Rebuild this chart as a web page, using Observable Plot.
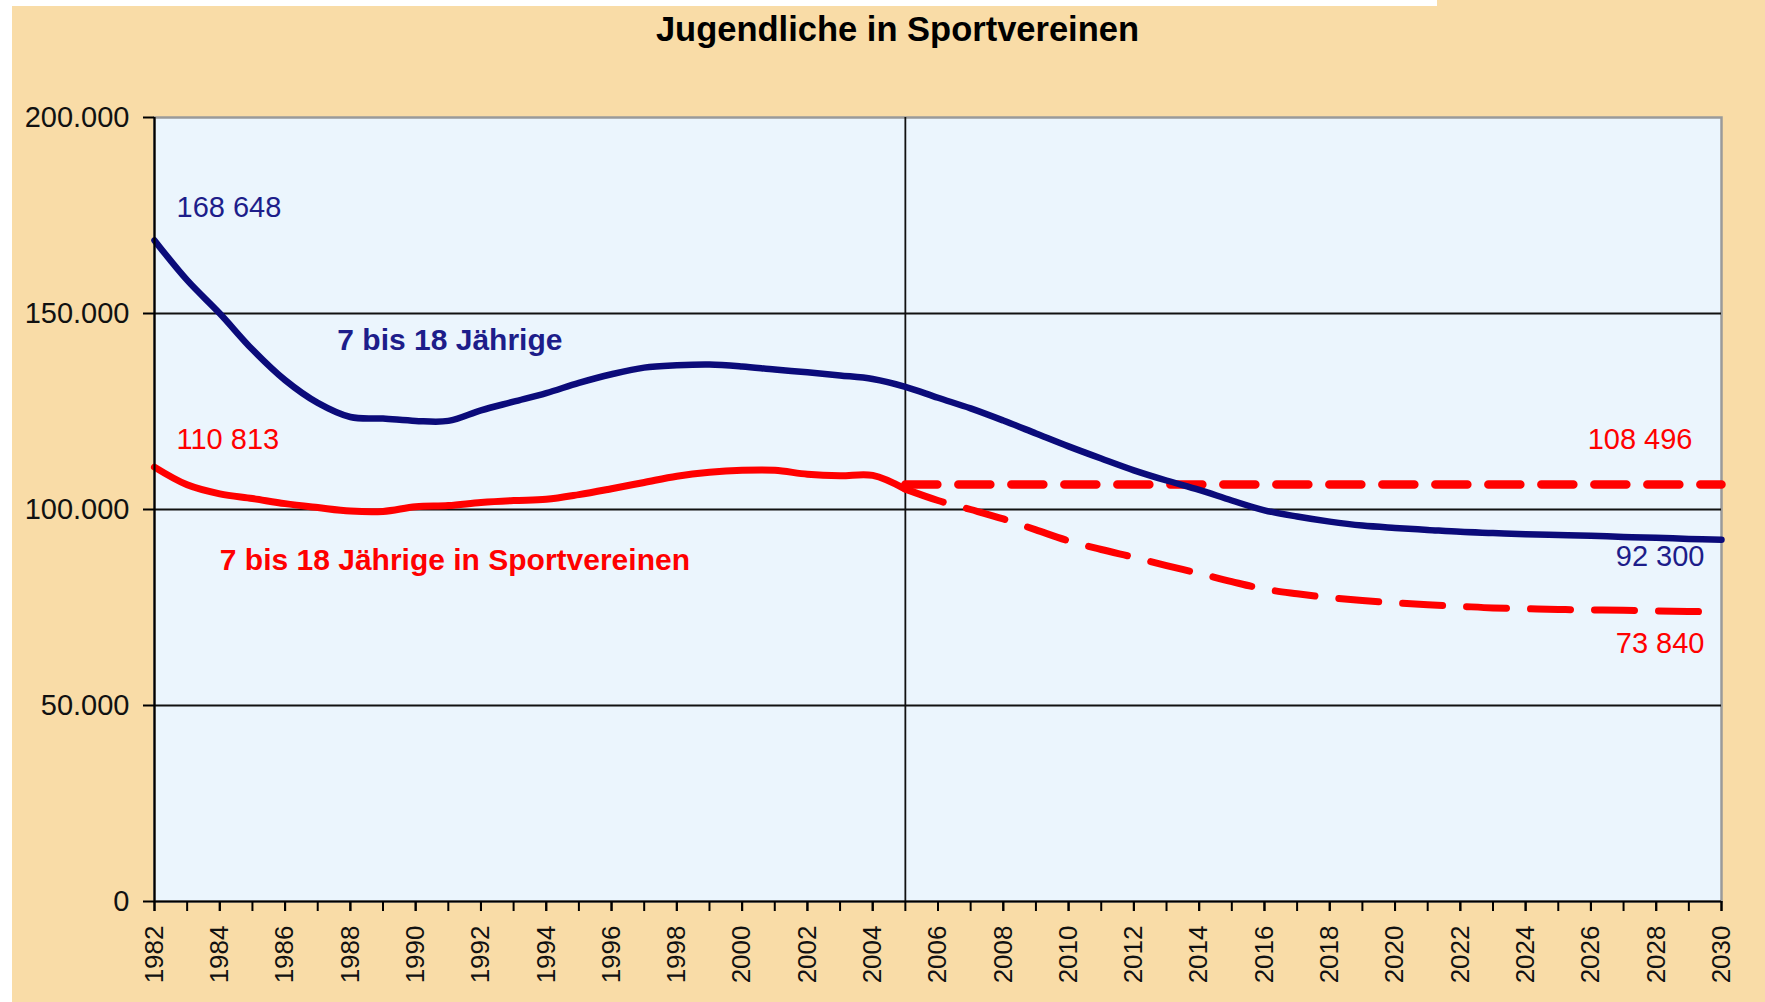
<!DOCTYPE html>
<html>
<head>
<meta charset="utf-8">
<script src="https://cdn.jsdelivr.net/npm/d3@7"></script>
<script src="https://cdn.jsdelivr.net/npm/@observablehq/plot@0.6"></script>
<style>
html, body { margin: 0; padding: 0; }
body { width: 1765px; height: 1002px; overflow: hidden; background: #F9DCA7; font-family: "Liberation Sans", Arial, sans-serif; }
#wrap { position: relative; width: 1765px; height: 1002px; }
.wtop { position: absolute; left: 0; top: 0; width: 1437px; height: 6px; background: #fff; }
.wleft { position: absolute; left: 0; top: 0; width: 12px; height: 1002px; background: #fff; }
#title { position: absolute; left: 0; top: 12px; width: 1795px; text-align: center; font-weight: bold; font-size: 34.5px; line-height: 34px; color: #000; }
#chart { position: absolute; left: 0; top: 0; }
</style>
</head>
<body>
<div id="wrap">
  <div class="wtop"></div>
  <div class="wleft"></div>
  <div id="chart"></div>
  <div id="title">Jugendliche in Sportvereinen</div>
</div>
<script>
// ---- data ----
const years = d3.range(1982, 2031);
const blueValues = [
  168648, 158500, 150000, 140800, 133000, 127200, 123600, 123200, 122600, 122600,
  125300, 127500, 129700, 132300, 134500, 136200, 136800, 137000, 136500, 135700,
  135000, 134200, 133300, 131300, 128500, 125800, 122700, 119400, 116100, 113000,
  110000, 107400, 105000, 102300, 99800, 98200, 96900, 95900, 95300, 94800,
  94300, 94000, 93700, 93500, 93300, 93000, 92800, 92500, 92300
];
const redHistYears = d3.range(1982, 2006);
const redHistValues = [
  110813, 106300, 104000, 102800, 101500, 100500, 99600, 99500, 100700, 101000,
  101800, 102300, 102600, 103800, 105300, 106900, 108500, 109500, 110000, 110000,
  109000, 108600, 108700, 105200
];
const forecastYears = d3.range(2005, 2031);
const redLowValues = [
  105200, 102300, 100000, 97600, 94800, 92000, 89800, 87800, 85700, 83700,
  81600, 79700, 78500, 77500, 76800, 76200, 75700, 75300, 74900, 74700,
  74500, 74400, 74300, 74100, 74000, 73840
];
const constYears = [2005, 2030];
const constValues = [106400, 106400];
const yTicks = [0, 50000, 100000, 150000, 200000];
const gridValues = [50000, 100000, 150000];
const xLabelYears = d3.range(1982, 2031, 2);
const splitYear = [2005];
const valueLabels = ["168 648", "110 813", "108 496", "92 300", "73 840"];
const seriesNames = ["7 bis 18 Jährige", "7 bis 18 Jährige in Sportvereinen"];
const seriesNameAnchors = [{year: 1987.6, value: 143100}, {year: 1984, value: 87000}];

// ---- tables ----
const blue = years.map((year, i) => ({year, value: blueValues[i]}));
const redHist = redHistYears.map((year, i) => ({year, value: redHistValues[i]}));
const redLow = forecastYears.map((year, i) => ({year, value: redLowValues[i]}));
const redConst = constYears.map((year, i) => ({year, value: constValues[i]}));

const NAVY = "#0B0B7A";
const NAVY_TXT = "#1d1d8a";
const RED = "#FF0000";
const yFmt = v => v === 0 ? "0" : d3.format(",")(v).replace(/,/g, ".");

const chart = Plot.plot({
  width: 1765,
  height: 1002,
  marginLeft: 154,
  marginRight: 44,
  marginTop: 117,
  marginBottom: 101,
  style: {background: "transparent", color: "#000", fontFamily: "Liberation Sans, Arial, sans-serif", overflow: "visible"},
  x: {domain: [1982, 2030], label: null},
  y: {domain: [0, 200000], label: null},
  marks: [
    Plot.frame({fill: "#EBF5FD", stroke: "#9a9a9a", strokeWidth: 2.5}),
    Plot.ruleY(gridValues, {stroke: "#111", strokeWidth: 1.8}),
    Plot.ruleX(splitYear, {stroke: "#111", strokeWidth: 1.8}),
    Plot.line(redConst, {x: "year", y: "value", stroke: RED, strokeWidth: 8.5, strokeDasharray: "32,21"}),
    Plot.line(redLow, {x: "year", y: "value", stroke: RED, strokeWidth: 7, strokeDasharray: "40,24", curve: "catmull-rom"}),
    Plot.line(redHist, {x: "year", y: "value", stroke: RED, strokeWidth: 7, curve: "catmull-rom"}),
    Plot.line(blue, {x: "year", y: "value", stroke: NAVY, strokeWidth: 6.5, curve: "catmull-rom"}),
    Plot.ruleX([1982], {stroke: "#000", strokeWidth: 2.2}),
    Plot.ruleY([0], {stroke: "#000", strokeWidth: 2.2}),
    Plot.axisY({ticks: yTicks, tickSize: 11, tickPadding: 14, tickFormat: yFmt, fontSize: 29, strokeWidth: 2, label: null, fill: "#111"}),
    Plot.axisX({ticks: years, tickSize: 10, tickFormat: () => "", strokeWidth: 2, label: null}),
    Plot.axisX({ticks: xLabelYears, tickSize: 10, tickPadding: 14, tickRotate: -90, tickFormat: d => String(d), fontSize: 26, strokeWidth: 2, label: null, fill: "#111"}),
    // value labels
    Plot.text([blue[0]], {x: "year", y: "value", text: () => valueLabels[0], dx: 22, dy: -33, textAnchor: "start", fill: NAVY_TXT, fontSize: 29}),
    Plot.text([redHist[0]], {x: "year", y: "value", text: () => valueLabels[1], dx: 22, dy: -27, textAnchor: "start", fill: RED, fontSize: 29}),
    Plot.text([redConst[redConst.length - 1]], {x: "year", y: "value", text: () => valueLabels[2], dx: -29, dy: -45, textAnchor: "end", fill: RED, fontSize: 29}),
    Plot.text([blue[blue.length - 1]], {x: "year", y: "value", text: () => valueLabels[3], dx: -17, dy: 17, textAnchor: "end", fill: NAVY_TXT, fontSize: 29}),
    Plot.text([redLow[redLow.length - 1]], {x: "year", y: "value", text: () => valueLabels[4], dx: -17, dy: 32, textAnchor: "end", fill: RED, fontSize: 29}),
    // series names
    Plot.text([seriesNameAnchors[0]], {x: "year", y: "value", text: () => seriesNames[0], textAnchor: "start", fill: NAVY_TXT, fontSize: 30, fontWeight: "bold"}),
    Plot.text([seriesNameAnchors[1]], {x: "year", y: "value", text: () => seriesNames[1], textAnchor: "start", fill: RED, fontSize: 30, fontWeight: "bold"})
  ]
});
document.getElementById("chart").appendChild(chart);
</script>
</body>
</html>
